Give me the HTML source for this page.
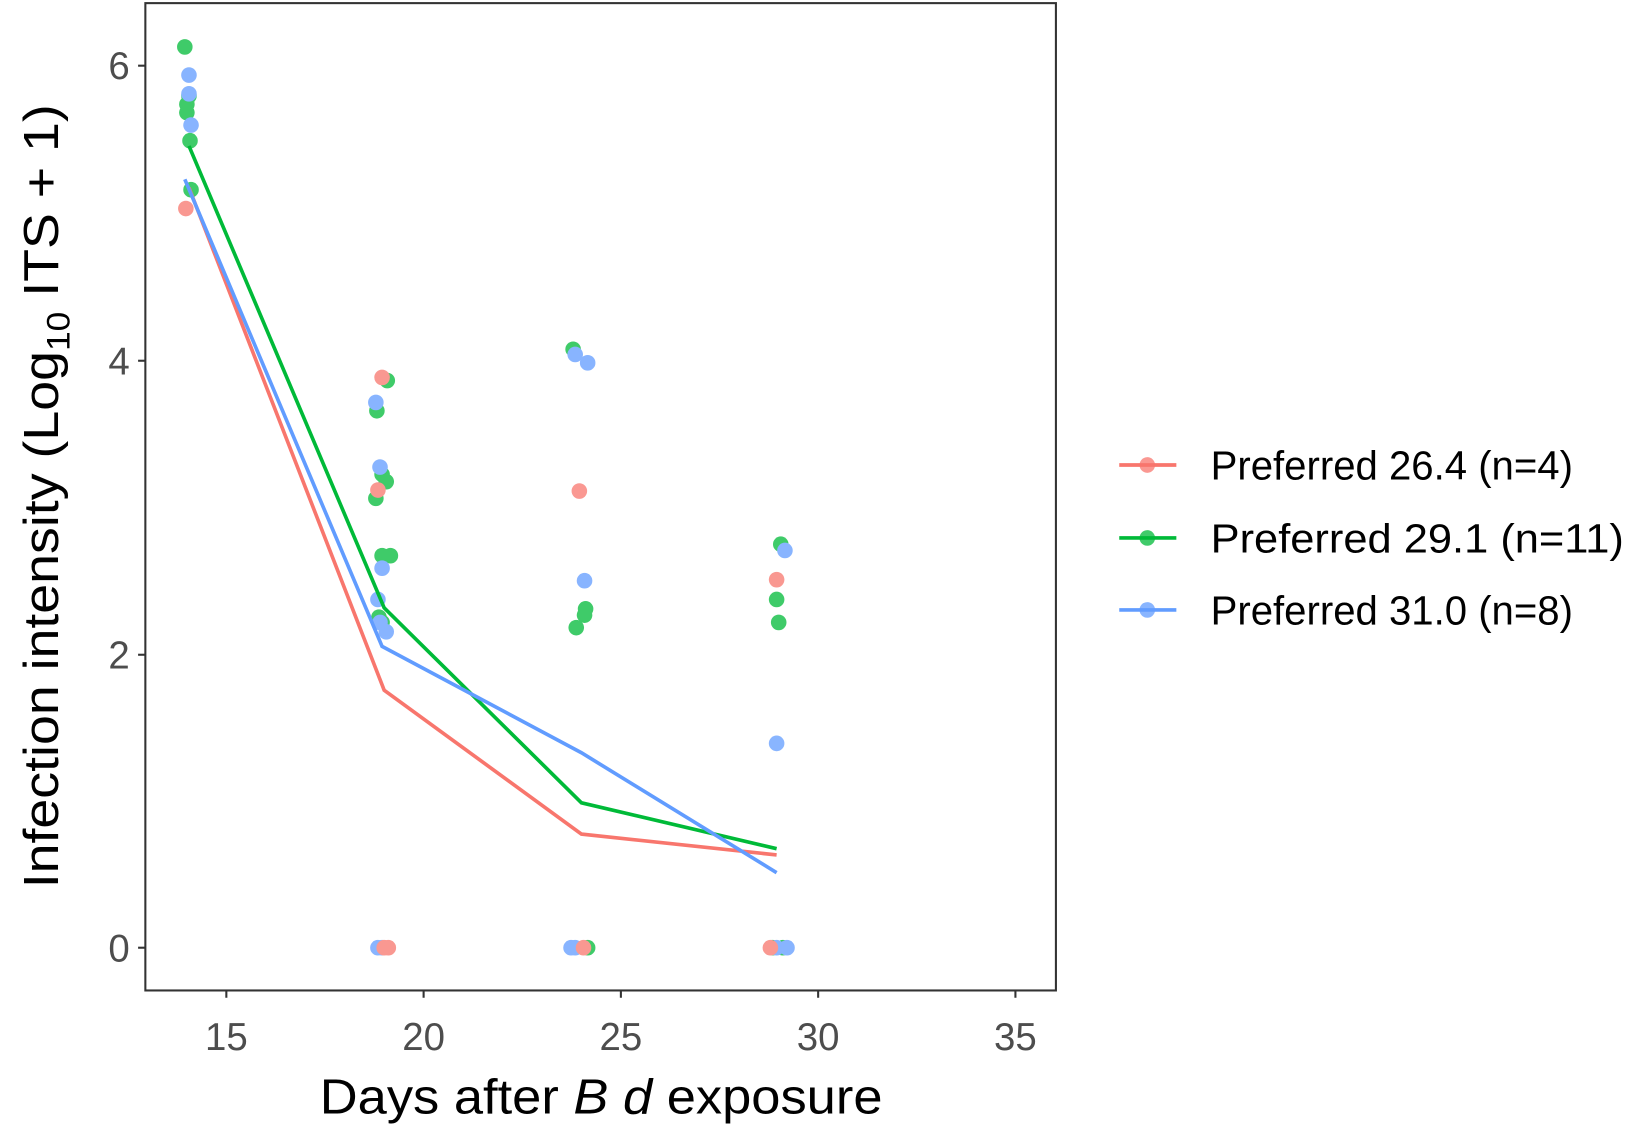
<!DOCTYPE html>
<html><head><style>html,body{margin:0;padding:0;background:#fff;}svg{display:block;}</style></head>
<body>
<svg width="1628" height="1126" viewBox="0 0 1568 1080" preserveAspectRatio="none" xmlns="http://www.w3.org/2000/svg" font-family="Liberation Sans, sans-serif">
<rect x="0" y="0" width="1568" height="1080" fill="#fff"/>
<g opacity="0.75">
<g fill="#00BA38">
<circle cx="178" cy="45" r="7.5"/><circle cx="180" cy="100" r="7.5"/><circle cx="182" cy="92" r="7.5"/><circle cx="180" cy="108" r="7.5"/><circle cx="183" cy="135" r="7.5"/><circle cx="184" cy="182" r="7.5"/>
<circle cx="373" cy="365" r="7.5"/><circle cx="363" cy="394" r="7.5"/><circle cx="368" cy="455" r="7.5"/><circle cx="372" cy="462" r="7.5"/><circle cx="362" cy="478" r="7.5"/><circle cx="368" cy="533" r="7.5"/><circle cx="376" cy="533" r="7.5"/><circle cx="365" cy="592" r="7.5"/><circle cx="368" cy="597" r="7.5"/>
<circle cx="552" cy="335" r="7.5"/><circle cx="564" cy="584" r="7.5"/><circle cx="563" cy="590" r="7.5"/><circle cx="555" cy="602" r="7.5"/><circle cx="566" cy="909" r="7.5"/>
<circle cx="752" cy="522" r="7.5"/><circle cx="748" cy="575" r="7.5"/><circle cx="750" cy="597" r="7.5"/><circle cx="744" cy="909" r="7.5"/><circle cx="754" cy="909" r="7.5"/>
</g>
<g fill="#619CFF">
<circle cx="182" cy="72" r="7.5"/><circle cx="184" cy="120" r="7.5"/><circle cx="182" cy="90" r="7.5"/>
<circle cx="362" cy="386" r="7.5"/><circle cx="366" cy="448" r="7.5"/><circle cx="368" cy="545" r="7.5"/><circle cx="372" cy="606" r="7.5"/><circle cx="364" cy="575" r="7.5"/><circle cx="366" cy="597" r="7.5"/><circle cx="364" cy="909" r="7.5"/><circle cx="368" cy="909" r="7.5"/>
<circle cx="554" cy="340" r="7.5"/><circle cx="566" cy="348" r="7.5"/><circle cx="563" cy="557" r="7.5"/><circle cx="550" cy="909" r="7.5"/><circle cx="554" cy="909" r="7.5"/>
<circle cx="756" cy="528" r="7.5"/><circle cx="748" cy="713" r="7.5"/><circle cx="748" cy="909" r="7.5"/><circle cx="758" cy="909" r="7.5"/>
</g>
<g fill="#F8766D">
<circle cx="179" cy="200" r="7.5"/>
<circle cx="368" cy="362" r="7.5"/><circle cx="364" cy="470" r="7.5"/><circle cx="374" cy="909" r="7.5"/><circle cx="370" cy="909" r="7.5"/>
<circle cx="558" cy="471" r="7.5"/><circle cx="562" cy="909" r="7.5"/>
<circle cx="748" cy="556" r="7.5"/><circle cx="742" cy="909" r="7.5"/>
</g>
</g>
<g fill="none" stroke-width="3.5">
<polyline stroke="#F8766D" points="182,180 370,662 560,800 748,820"/>
<polyline stroke="#00BA38" points="182,140 370,583 560,770 748,814"/>
<polyline stroke="#619CFF" points="178,172 368,620 560,722 748,837"/>
</g>
<rect x="140" y="3" width="877" height="947" fill="none" stroke="#333" stroke-width="2"/>
<g stroke="#333" stroke-width="2">
<line x1="133" y1="63" x2="140" y2="63"/><line x1="133" y1="346" x2="140" y2="346"/><line x1="133" y1="628" x2="140" y2="628"/><line x1="133" y1="909" x2="140" y2="909"/>
<line x1="218" y1="950" x2="218" y2="957"/><line x1="408" y1="950" x2="408" y2="957"/><line x1="598" y1="950" x2="598" y2="957"/><line x1="788" y1="950" x2="788" y2="957"/><line x1="978" y1="950" x2="978" y2="957"/>
</g>
<g fill="#4d4d4d" font-size="37" text-anchor="end">
<text x="125" y="76">6</text><text x="125" y="359">4</text><text x="125" y="641">2</text><text x="125" y="922">0</text>
</g>
<g fill="#4d4d4d" font-size="37" text-anchor="middle">
<text x="218" y="1007">15</text><text x="408" y="1007">20</text><text x="598" y="1007">25</text><text x="788" y="1007">30</text><text x="978" y="1007">35</text>
</g>
<text x="308" y="1068" font-size="47" textLength="542" lengthAdjust="spacingAndGlyphs" fill="#000">Days after <tspan font-style="italic">B d</tspan> exposure</text>
<text transform="translate(56,852) rotate(-90)" font-size="47" textLength="752" lengthAdjust="spacingAndGlyphs" fill="#000">Infection intensity (Log<tspan font-size="31" dy="11">10</tspan><tspan dy="-11"> ITS + 1)</tspan></text>
<g stroke-width="3.5">
<line x1="1078" y1="446" x2="1133" y2="446" stroke="#F8766D"/><circle cx="1105" cy="446" r="7.5" fill="#F8766D" opacity="0.75"/>
<line x1="1078" y1="516" x2="1133" y2="516" stroke="#00BA38"/><circle cx="1105" cy="516" r="7.5" fill="#00BA38" opacity="0.75"/>
<line x1="1078" y1="585" x2="1133" y2="585" stroke="#619CFF"/><circle cx="1105" cy="585" r="7.5" fill="#619CFF" opacity="0.75"/>
</g>
<g font-size="39" fill="#000">
<text x="1166" y="460" textLength="349" lengthAdjust="spacingAndGlyphs">Preferred 26.4 (n=4)</text>
<text x="1166" y="530" textLength="398" lengthAdjust="spacingAndGlyphs">Preferred 29.1 (n=11)</text>
<text x="1166" y="599" textLength="349" lengthAdjust="spacingAndGlyphs">Preferred 31.0 (n=8)</text>
</g>
</svg>
</body></html>
